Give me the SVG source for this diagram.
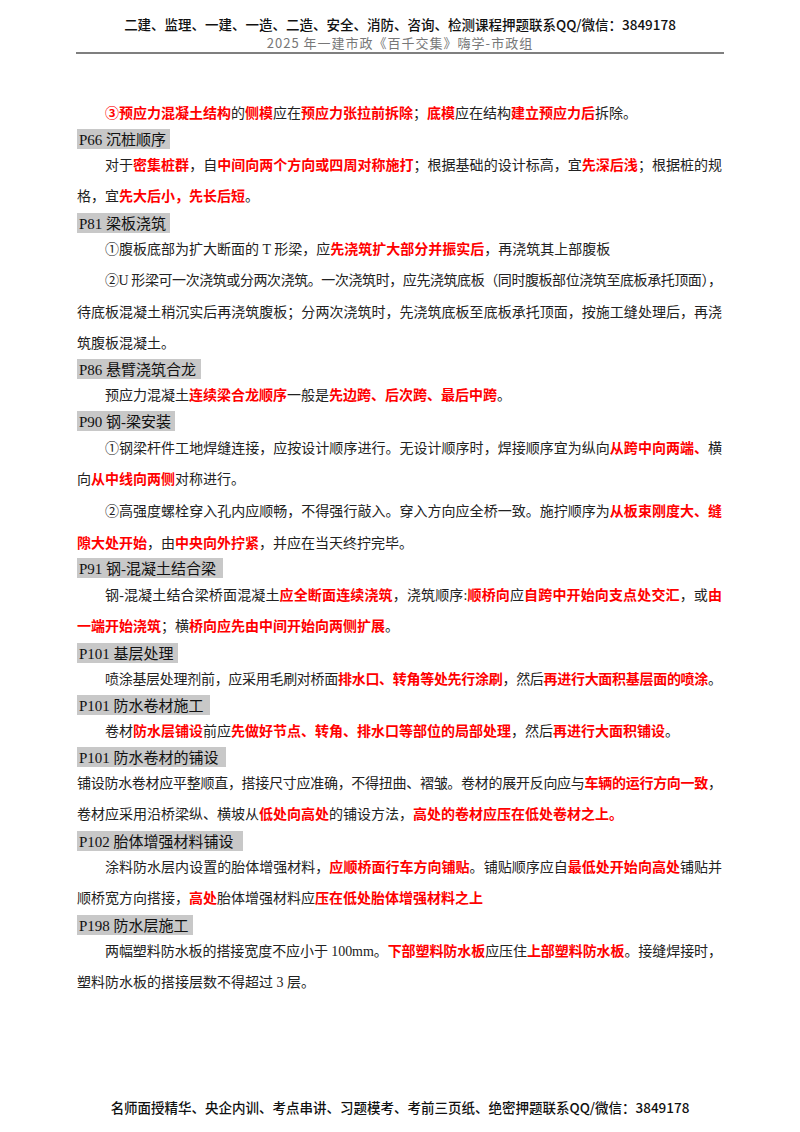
<svg xmlns="http://www.w3.org/2000/svg" width="800" height="1132" viewBox="0 0 800 1132">
<style>
text{font-family:"Liberation Serif","Noto Sans CJK SC",serif;font-size:14px;fill:#222}
.r{fill:#ff0000;font-weight:bold}
.h{font-size:15px;fill:#111}
.hb{fill:#c8c8c8}
.hd{font-family:"Noto Sans CJK SC",sans-serif;font-size:13.5px;font-weight:500;fill:#111;text-anchor:middle}
.hd2{font-family:"Noto Sans CJK SC",sans-serif;font-size:13px;fill:#777;text-anchor:middle;letter-spacing:1px}
</style>
<rect width="800" height="1132" fill="#fff"/>
<g id="header">
<text class="hd" x="400" y="30">二建、监理、一建、一造、二造、安全、消防、咨询、检测课程押题联系QQ/微信：3849178</text>
<text class="hd2" x="400" y="48">2025 年一建市政《百千交集》嗨学-市政组</text>
<line x1="76" y1="53" x2="724" y2="53" stroke="#555" stroke-width="1.5"/>
</g>
<g id="headings">
<rect class="hb" x="77" y="129" width="93" height="20"/><text class="h" x="79" y="145">P66 沉桩顺序</text>
<rect class="hb" x="77" y="213" width="93" height="20"/><text class="h" x="79" y="229">P81 梁板浇筑</text>
<rect class="hb" x="77" y="359" width="124" height="20"/><text class="h" x="79" y="375">P86 悬臂浇筑合龙</text>
<rect class="hb" x="77" y="411" width="98" height="20"/><text class="h" x="79" y="427">P90 钢-梁安装</text>
<rect class="hb" x="77" y="558" width="146" height="20"/><text class="h" x="79" y="574">P91 钢-混凝土结合梁</text>
<rect class="hb" x="77" y="643" width="101" height="20"/><text class="h" x="79" y="659">P101 基层处理</text>
<rect class="hb" x="77" y="695" width="133" height="20"/><text class="h" x="79" y="711">P101 防水卷材施工</text>
<rect class="hb" x="77" y="747" width="149" height="20"/><text class="h" x="79" y="763">P101 防水卷材的铺设</text>
<rect class="hb" x="77" y="831" width="166" height="20"/><text class="h" x="79" y="847">P102 胎体增强材料铺设</text>
<rect class="hb" x="77" y="915" width="116" height="20"/><text class="h" x="79" y="931">P198 防水层施工</text>
</g>
<g id="body">
<text x="105" y="118"><tspan class="r">③预应力混凝土结构</tspan>的<tspan class="r">侧模</tspan>应在<tspan class="r">预应力张拉前拆除</tspan>；<tspan class="r">底模</tspan>应在结构<tspan class="r">建立预应力后</tspan>拆除。</text>
<text x="105" y="170" textLength="617" lengthAdjust="spacing">对于<tspan class="r">密集桩群</tspan>，自<tspan class="r">中间向两个方向或四周对称施打</tspan>；根据基础的设计标高，宜<tspan class="r">先深后浅</tspan>；根据桩的规</text>
<text x="77" y="201">格，宜<tspan class="r">先大后小，先长后短</tspan>。</text>
<text x="105" y="254">①腹板底部为扩大断面的 T 形梁，应<tspan class="r">先浇筑扩大部分并振实后</tspan>，再浇筑其上部腹板</text>
<text x="105" y="285" textLength="617" lengthAdjust="spacing">②U 形梁可一次浇筑或分两次浇筑。一次浇筑时，应先浇筑底板（同时腹板部位浇筑至底板承托顶面），</text>
<text x="77" y="317" textLength="645" lengthAdjust="spacing">待底板混凝土稍沉实后再浇筑腹板；分两次浇筑时，先浇筑底板至底板承托顶面，按施工缝处理后，再浇</text>
<text x="77" y="348">筑腹板混凝土。</text>
<text x="105" y="400">预应力混凝土<tspan class="r">连续梁合龙顺序</tspan>一般是<tspan class="r">先边跨、后次跨、最后中跨</tspan>。</text>
<text x="105" y="453" textLength="617" lengthAdjust="spacing">①钢梁杆件工地焊缝连接，应按设计顺序进行。无设计顺序时，焊接顺序宜为纵向<tspan class="r">从跨中向两端、</tspan>横</text>
<text x="77" y="484">向<tspan class="r">从中线向两侧</tspan>对称进行。</text>
<text x="105" y="516" textLength="617" lengthAdjust="spacing">②高强度螺栓穿入孔内应顺畅，不得强行敲入。穿入方向应全桥一致。施拧顺序为<tspan class="r">从板束刚度大、缝</tspan></text>
<text x="77" y="548"><tspan class="r">隙大处开始</tspan>，由<tspan class="r">中央向外拧紧</tspan>，并应在当天终拧完毕。</text>
<text x="105" y="600" textLength="617" lengthAdjust="spacing">钢-混凝土结合梁桥面混凝土<tspan class="r">应全断面连续浇筑</tspan>，浇筑顺序:<tspan class="r">顺桥向</tspan>应<tspan class="r">自跨中开始向支点处交汇</tspan>，或<tspan class="r">由</tspan></text>
<text x="77" y="631"><tspan class="r">一端开始浇筑</tspan>；横<tspan class="r">桥向应先由中间开始向两侧扩展</tspan>。</text>
<text x="105" y="684" textLength="617" lengthAdjust="spacing">喷涂基层处理剂前，应采用毛刷对桥面<tspan class="r">排水口、转角等处先行涂刷</tspan>，然后<tspan class="r">再进行大面积基层面的喷涂</tspan>。</text>
<text x="105" y="736">卷材<tspan class="r">防水层铺设</tspan>前应<tspan class="r">先做好节点、转角、排水口等部位的局部处理</tspan>，然后<tspan class="r">再进行大面积铺设</tspan>。</text>
<text x="77" y="788" textLength="645" lengthAdjust="spacing">铺设防水卷材应平整顺直，搭接尺寸应准确，不得扭曲、褶皱。卷材的展开反向应与<tspan class="r">车辆的运行方向一致</tspan>，</text>
<text x="77" y="819">卷材应采用沿桥梁纵、横坡从<tspan class="r">低处向高处</tspan>的铺设方法，<tspan class="r">高处的卷材应压在低处卷材之上。</tspan></text>
<text x="105" y="872" textLength="617" lengthAdjust="spacing">涂料防水层内设置的胎体增强材料，<tspan class="r">应顺桥面行车方向铺贴</tspan>。铺贴顺序应自<tspan class="r">最低处开始向高处</tspan>铺贴并</text>
<text x="77" y="903">顺桥宽方向搭接，<tspan class="r">高处</tspan>胎体增强材料应<tspan class="r">压在低处胎体增强材料之上</tspan></text>
<text x="105" y="956" textLength="617" lengthAdjust="spacing">两幅塑料防水板的搭接宽度不应小于 100mm。<tspan class="r">下部塑料防水板</tspan>应压住<tspan class="r">上部塑料防水板</tspan>。接缝焊接时，</text>
<text x="77" y="987">塑料防水板的搭接层数不得超过 3 层。</text>
</g>
<g id="footer">
<text class="hd" x="400" y="1113">名师面授精华、央企内训、考点串讲、习题模考、考前三页纸、绝密押题联系QQ/微信：3849178</text>
</g>
</svg>
